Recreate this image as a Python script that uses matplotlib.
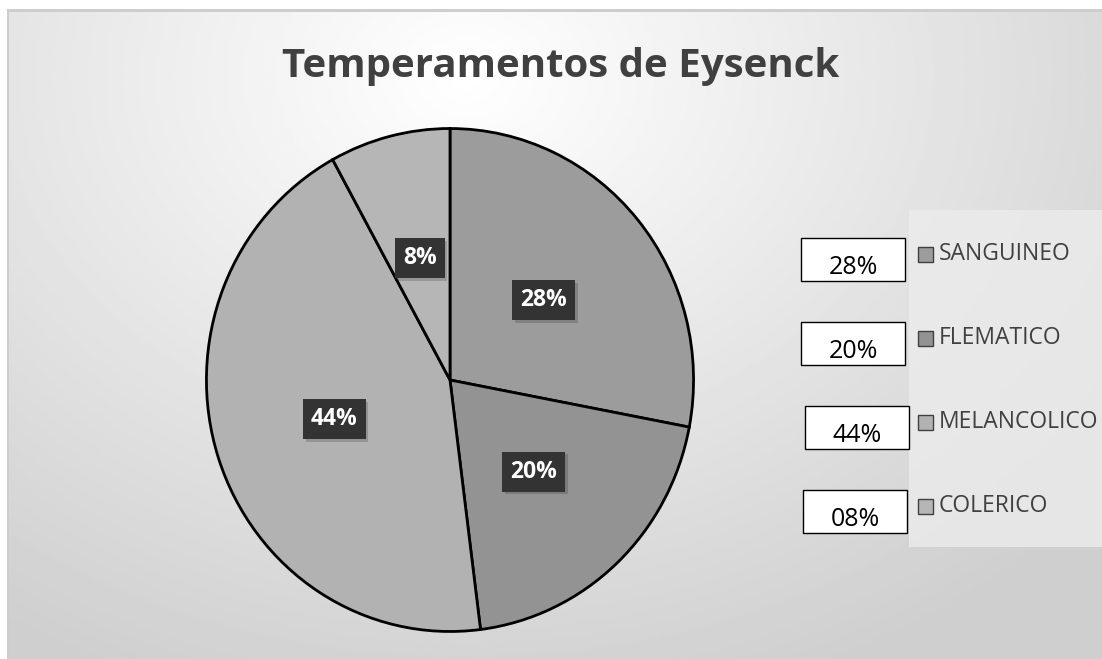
import numpy as np
import matplotlib
matplotlib.use("Agg")
import matplotlib.pyplot as plt
from matplotlib.patches import Rectangle
import matplotlib.patheffects as pe

# data
categories = ["SANGUINEO", "FLEMATICO", "MELANCOLICO", "COLERICO"]
values = [28, 20, 44, 8]
box_labels = ["28%", "20%", "44%", "08%"]
colors = ["#9c9c9c", "#939393", "#b2b2b2", "#b6b6b6"]

W, H = 1102, 659
fig = plt.figure(figsize=(W / 100, H / 100), dpi=100)
fig.patch.set_facecolor("#d2d2d2")

# background panel with radial gradient
bg = fig.add_axes([7 / W, -0.01, 1.02 - 7 / W, (H - 10) / H + 0.01])
yy, xx = np.mgrid[0:300, 0:500]
cx, cy = 0.41 * 500, 0.1 * 300
d = np.sqrt(((xx - cx) / 500) ** 2 + ((yy - cy) / 300 * 0.75) ** 2)
shade = 1.0 - 0.19 * np.clip(d / 0.75, 0, 1)
bg.imshow(shade, cmap="gray", vmin=0, vmax=1, aspect="auto", extent=[0, 1, 0, 1], origin="upper")
bg.set_xlim(0, 1)
bg.set_ylim(0, 1)
bg.axis("off")
# white strip above the chart area
fig.add_artist(Rectangle((0, (H - 10) / H), 1, 10 / H, transform=fig.transFigure,
                         facecolor="white", edgecolor="none"))
fig.add_artist(Rectangle((0, 0), 7 / W, 1, transform=fig.transFigure,
                         facecolor="white", edgecolor="none"))
fig.add_artist(Rectangle((7 / W, (H - 12) / H), 1 - 7 / W, 3 / H, transform=fig.transFigure,
                         facecolor="#cdcdcd", edgecolor="none"))
fig.add_artist(Rectangle((7 / W, 0), 2 / W, (H - 10) / H, transform=fig.transFigure,
                         facecolor="#cdcdcd", edgecolor="none"))

# legend panel
fig.add_artist(Rectangle((909 / W, (H - 547) / H), (W - 909) / W, 337 / H, transform=fig.transFigure,
                         facecolor="#ececec", edgecolor="none", alpha=0.8))

fig.text(561 / W, 1 - 66 / H, "Temperamentos de Eysenck", ha="center", va="center",
         fontsize=29, fontweight="bold", color="#404040", family="Open Sans")

# pie
cx_px, cy_px, rx, ry = 450, 380, 246, 254
ax = fig.add_axes([(cx_px - rx) / W, (H - cy_px - ry) / H, 2 * rx / W, 2 * ry / H])
wedges, texts, autotexts = ax.pie(values, colors=colors, startangle=90, counterclock=False,
                                  autopct=lambda p: "%d%%" % round(p), pctdistance=0.5,
                                  wedgeprops=dict(edgecolor="black", linewidth=2))
for t in autotexts:
    t.set_color("white")
    t.set_fontsize(16.5)
    t.set_fontweight("bold")
    t.set_family("Open Sans")
    t.set_bbox(dict(boxstyle="square,pad=0.35", facecolor="#333333", edgecolor="none"))
    t.get_bbox_patch().set_path_effects([pe.SimplePatchShadow(offset=(2, -2), alpha=0.18),
                                         pe.Normal()])
ax.set_aspect("auto")
ax.set_xlim(-1.01, 1.01)
ax.set_ylim(-1.01, 1.01)
ax.axis("off")

# legend with value boxes
row_y = [254, 338, 422, 506]
box_x = [801, 801, 805, 803]
for i, cat in enumerate(categories):
    y = row_y[i]
    fig.add_artist(Rectangle((box_x[i] / W, (H - y - 27) / H), 104 / W, 43 / H,
                             transform=fig.transFigure, facecolor="white",
                             edgecolor="black", linewidth=1))
    fig.text((box_x[i] + 52) / W, 1 - (y + 13) / H, box_labels[i], ha="center", va="center",
             fontsize=18, color="black", family="Open Sans")
    fig.add_artist(Rectangle((918 / W, (H - y - 8) / H), 15 / W, 15 / H,
                             transform=fig.transFigure, facecolor=colors[i],
                             edgecolor="#404040", linewidth=1))
    fig.text(939 / W, 1 - y / H, cat, ha="left", va="center", fontsize=16.5,
             color="#404040", family="Open Sans")

fig.savefig("out.png", dpi=100)
